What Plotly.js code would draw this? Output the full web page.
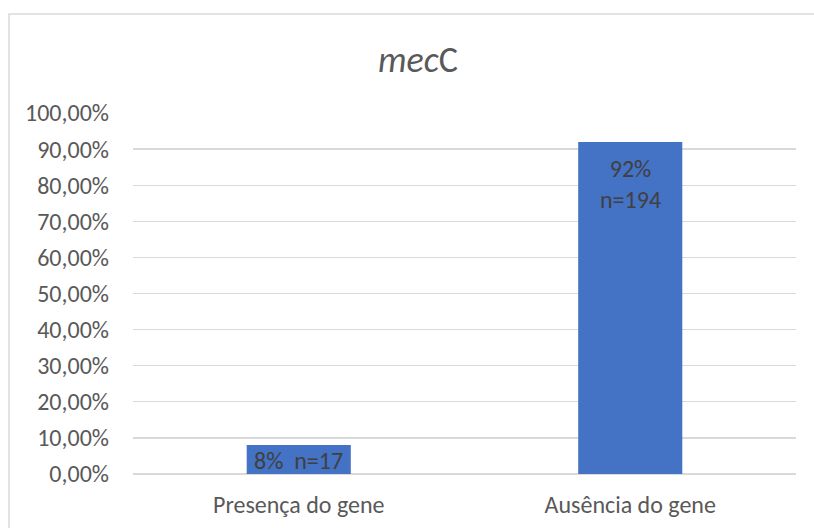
<!DOCTYPE html>
<html>
<head>
<meta charset="utf-8">
<script src="https://cdn.plot.ly/plotly-3.0.1.min.js"></script>
<style>
  html, body { margin: 0; padding: 0; background: #ffffff; }
  #chart { width: 814px; height: 528px; }
</style>
</head>
<body>
<div id="chart"></div>
<script>
// Gene detection results
const categories = ["Presença do gene", "Ausência do gene"];
const shares = [0.08, 0.92];
const counts = [17, 194];
const labelText = ["8%  n=17", "92%<br>n=194"];
const yTickValues = [0, 0.1, 0.2, 0.3, 0.4, 0.5, 0.6, 0.7, 0.8, 0.9, 1.0];
const yTickLabels = ["0,00%", "10,00%", "20,00%", "30,00%", "40,00%", "50,00%",
                     "60,00%", "70,00%", "80,00%", "90,00%", "100,00%"];

const FONT = "Carlito, 'Open Sans', sans-serif";
const TEXT_SIZE = 24;

const W = 814, H = 528;
const M = { l: 133, r: 18, t: 113, b: 54 };
const plotW = W - M.l - M.r, plotH = H - M.t - M.b;
// outer chart frame in paper units
const fx0 = (9 - M.l) / plotW, fx1 = (830 - M.l) / plotW;
const fy1 = (H - M.b - 14) / plotH, fy0 = (H - M.b - 560) / plotH;

const trace = {
  type: "bar",
  x: categories,
  y: shares,
  customdata: counts,
  marker: { color: "#4472C4", line: { width: 0 } },
  hoverinfo: "none"
};

// value labels: short bars get a centred label, tall bars a label near the top
const labels = categories.map((c, i) => {
  const small = shares[i] < 0.15;
  return {
    x: c, y: small ? shares[i] / 2 : shares[i],
    xref: "x", yref: "y",
    text: labelText[i],
    showarrow: false,
    yanchor: small ? "middle" : "top",
    yshift: small ? -1 : -10,
    font: { family: FONT, size: TEXT_SIZE, color: "#404040" }
  };
});

const layout = {
  width: W, height: H,
  margin: M,
  paper_bgcolor: "#ffffff",
  plot_bgcolor: "#ffffff",
  bargap: 0.686,
  showlegend: false,
  title: {
    text: "<i>mec</i>C",
    font: { family: FONT, size: 36, color: "#595959" },
    x: 418 / W, xanchor: "center",
    y: 1 - 59 / H, yanchor: "middle",
    xref: "container", yref: "container"
  },
  xaxis: {
    type: "category",
    showgrid: false, zeroline: false, showline: false,
    ticks: "",
    tickfont: { family: FONT, size: TEXT_SIZE, color: "#595959" },
    ticklabelstandoff: 14
  },
  yaxis: {
    range: [0, 1],
    tickvals: yTickValues,
    ticktext: yTickLabels,
    showgrid: true, gridcolor: "#d9d9d9", gridwidth: 1.3,
    zeroline: true, zerolinecolor: "#d9d9d9", zerolinewidth: 1.3,
    showline: false, ticks: "",
    tickfont: { family: FONT, size: TEXT_SIZE, color: "#595959" },
    ticklabelstandoff: 23
  },
  annotations: labels,
  shapes: [{
    type: "rect", xref: "paper", yref: "paper",
    x0: fx0, x1: fx1, y0: fy0, y1: fy1,
    line: { color: "#d9d9d9", width: 1.5 },
    fillcolor: "rgba(0,0,0,0)",
    layer: "below"
  }]
};

Plotly.newPlot("chart", [trace], layout, { staticPlot: true, displayModeBar: false });
</script>
</body>
</html>
